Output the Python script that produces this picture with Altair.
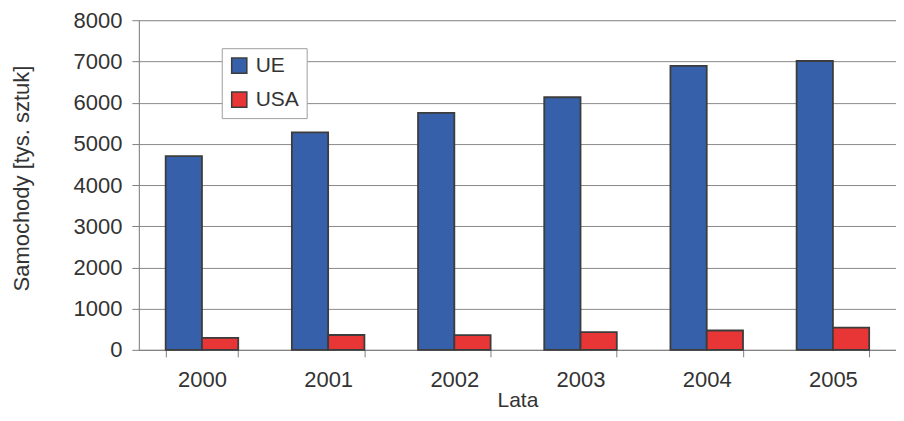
import altair as alt
import pandas as pd

years = ["2000", "2001", "2002", "2003", "2004", "2005"]
ue = [4700, 5280, 5750, 6130, 6890, 7010]
usa = [290, 360, 355, 430, 470, 540]
series = ["UE", "USA"]
colors = ["#3661AA", "#E83535"]

rows = []
for i, y in enumerate(years):
    rows.append({"Rok": y, "Seria": "UE", "Wartosc": ue[i]})
    rows.append({"Rok": y, "Seria": "USA", "Wartosc": usa[i]})
df = pd.DataFrame(rows)

FONT = "Liberation Sans"
TXT = "#333333"

chart = alt.Chart(df).mark_bar(stroke="#3c3c3c", strokeWidth=1.8).encode(
    x=alt.X("Rok:N", sort=years,
            scale=alt.Scale(paddingInner=0.425, paddingOuter=0.2125),
            axis=alt.Axis(title="Lata", labelAngle=0, tickBand="extent",
                          tickSize=7, tickColor="#7f7f7f", domainColor="#7f7f7f",
                          labelFontSize=22, labelFont=FONT, labelColor=TXT,
                          labelPadding=13, titleFontSize=21, titleFont=FONT,
                          titleColor=TXT, titleFontWeight="normal",
                          titleBaseline="middle", titleY=51, titleX=379,
                          grid=False)),
    xOffset=alt.XOffset("Seria:N", sort=series, scale=alt.Scale(paddingInner=0, paddingOuter=0)),
    y=alt.Y("Wartosc:Q",
            scale=alt.Scale(domain=[0, 8000], nice=False),
            axis=alt.Axis(title="Samochody [tys. sztuk]", values=list(range(0, 8001, 1000)),
                          format="d",
                          tickSize=7, tickColor="#7f7f7f", domainColor="#7f7f7f",
                          gridColor="#8a8a8a", gridWidth=1,
                          labelFontSize=22, labelFont=FONT, labelColor=TXT,
                          labelPadding=10, titleFontSize=22, titleFont=FONT,
                          titleColor=TXT, titleFontWeight="normal",
                          titleAngle=-90, titleBaseline="middle", titleAlign="center",
                          titleX=-117, titleY=158)),
    color=alt.Color("Seria:N", sort=series,
                    scale=alt.Scale(domain=series, range=colors),
                    legend=alt.Legend(title=None, orient="none", legendX=83, legendY=28,
                                      symbolType="square", symbolSize=230,
                                      symbolStrokeColor="#3c3c3c", symbolStrokeWidth=1.5,
                                      labelFontSize=21, labelFont=FONT, labelColor=TXT,
                                      labelOffset=6, rowPadding=11, padding=7,
                                      strokeColor="#a0a0a0", fillColor="white")),
).properties(
    width=758, height=330,
    autosize=alt.AutoSizeParams(type="none"),
    padding={"left": 131, "top": 12, "right": 0, "bottom": 63},
).configure_view(
    stroke="#555555", strokeWidth=1
).configure(background="white")

chart.save("out.html", embed_options={"renderer": "svg", "actions": False})
